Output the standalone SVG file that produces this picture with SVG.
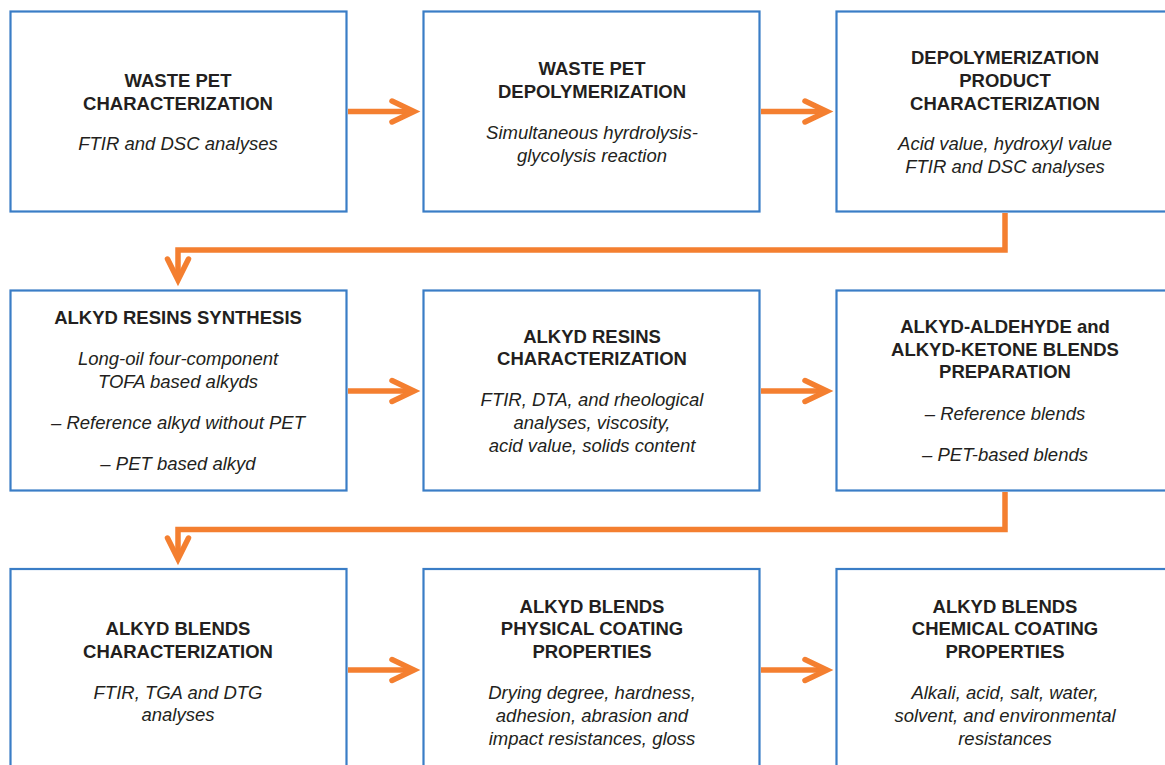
<svg xmlns="http://www.w3.org/2000/svg" width="1165" height="765" viewBox="0 0 1165 765">
<style>
.box{fill:#ffffff;stroke:#3a7dc6;stroke-width:2.2}
.t{font-family:"Liberation Sans",Arial,sans-serif;font-size:18.5px;font-weight:bold;fill:#231f20;text-anchor:middle}
.i{font-family:"Liberation Sans",Arial,sans-serif;font-size:18.5px;font-style:italic;fill:#231f20;text-anchor:middle}
.c{fill:none;stroke:#f47f30;stroke-width:5.5}
.h{fill:none;stroke:#f47f30;stroke-width:5.5;stroke-linecap:round;stroke-linejoin:miter}
</style>
<rect width="1165" height="765" fill="#ffffff"/>
<g id="connectors">
<path class="c" d="M348,111.5 H411"/>
<path class="h" d="M392,101 L414,111.5 L392,122"/>
<path class="c" d="M761,111.5 H824"/>
<path class="h" d="M805,101 L827,111.5 L805,122"/>
<path class="c" d="M1005,213 V250 H178 V278"/>
<path class="h" d="M167.5,259 L178,280 L188.5,259"/>
<path class="c" d="M348,391 H411"/>
<path class="h" d="M392,380.5 L414,391 L392,401.5"/>
<path class="c" d="M761,391 H824"/>
<path class="h" d="M805,380.5 L827,391 L805,401.5"/>
<path class="c" d="M1005,492 V529.5 H178 V557"/>
<path class="h" d="M167.5,538 L178,559 L188.5,538"/>
<path class="c" d="M348,670 H411"/>
<path class="h" d="M392,659.5 L414,670 L392,680.5"/>
<path class="c" d="M761,670 H824"/>
<path class="h" d="M805,659.5 L827,670 L805,680.5"/>
</g>
<g id="n1">
<rect class="box" x="10.5" y="11.5" width="336" height="200"/>
<text class="t" x="178" y="87">WASTE PET</text>
<text class="t" x="178" y="109.5">CHARACTERIZATION</text>
<text class="i" x="178" y="149.5">FTIR and DSC analyses</text>
</g>
<g id="n2">
<rect class="box" x="423.5" y="11.5" width="336" height="200"/>
<text class="t" x="592" y="75">WASTE PET</text>
<text class="t" x="592" y="98">DEPOLYMERIZATION</text>
<text class="i" x="592" y="139">Simultaneous hyrdrolysis-</text>
<text class="i" x="592" y="162">glycolysis reaction</text>
</g>
<g id="n3">
<rect class="box" x="836.5" y="11.5" width="336" height="200"/>
<text class="t" x="1005" y="63.5">DEPOLYMERIZATION</text>
<text class="t" x="1005" y="86.5">PRODUCT</text>
<text class="t" x="1005" y="109.5">CHARACTERIZATION</text>
<text class="i" x="1005" y="149.5">Acid value, hydroxyl value</text>
<text class="i" x="1005" y="172.5">FTIR and DSC analyses</text>
</g>
<g id="n4">
<rect class="box" x="10.5" y="290.5" width="336" height="200"/>
<text class="t" x="178" y="324">ALKYD RESINS SYNTHESIS</text>
<text class="i" x="178" y="364.5">Long-oil four-component</text>
<text class="i" x="178" y="387.5">TOFA based alkyds</text>
<text class="i" x="178" y="428.5">– Reference alkyd without PET</text>
<text class="i" x="178" y="469.5">– PET based alkyd</text>
</g>
<g id="n5">
<rect class="box" x="423.5" y="290.5" width="336" height="200"/>
<text class="t" x="592" y="342.5">ALKYD RESINS</text>
<text class="t" x="592" y="365">CHARACTERIZATION</text>
<text class="i" x="592" y="405.5">FTIR, DTA, and rheological</text>
<text class="i" x="592" y="428.5">analyses, viscosity,</text>
<text class="i" x="592" y="451.5">acid value, solids content</text>
</g>
<g id="n6">
<rect class="box" x="836.5" y="290.5" width="336" height="200"/>
<text class="t" x="1005" y="333">ALKYD-ALDEHYDE and</text>
<text class="t" x="1005" y="355.5">ALKYD-KETONE BLENDS</text>
<text class="t" x="1005" y="378">PREPARATION</text>
<text class="i" x="1005" y="419.5">– Reference blends</text>
<text class="i" x="1005" y="460.5">– PET-based blends</text>
</g>
<g id="n7">
<rect class="box" x="10.5" y="569" width="336" height="200"/>
<text class="t" x="178" y="635">ALKYD BLENDS</text>
<text class="t" x="178" y="657.5">CHARACTERIZATION</text>
<text class="i" x="178" y="698.5">FTIR, TGA and DTG</text>
<text class="i" x="178" y="721">analyses</text>
</g>
<g id="n8">
<rect class="box" x="423.5" y="569" width="336" height="200"/>
<text class="t" x="592" y="612.5">ALKYD BLENDS</text>
<text class="t" x="592" y="635">PHYSICAL COATING</text>
<text class="t" x="592" y="657.5">PROPERTIES</text>
<text class="i" x="592" y="698.5">Drying degree, hardness,</text>
<text class="i" x="592" y="721.5">adhesion, abrasion and</text>
<text class="i" x="592" y="744.5">impact resistances, gloss</text>
</g>
<g id="n9">
<rect class="box" x="836.5" y="569" width="336" height="200"/>
<text class="t" x="1005" y="612.5">ALKYD BLENDS</text>
<text class="t" x="1005" y="635">CHEMICAL COATING</text>
<text class="t" x="1005" y="657.5">PROPERTIES</text>
<text class="i" x="1005" y="698.5">Alkali, acid, salt, water,</text>
<text class="i" x="1005" y="721.5">solvent, and environmental</text>
<text class="i" x="1005" y="744.5">resistances</text>
</g>
</svg>
